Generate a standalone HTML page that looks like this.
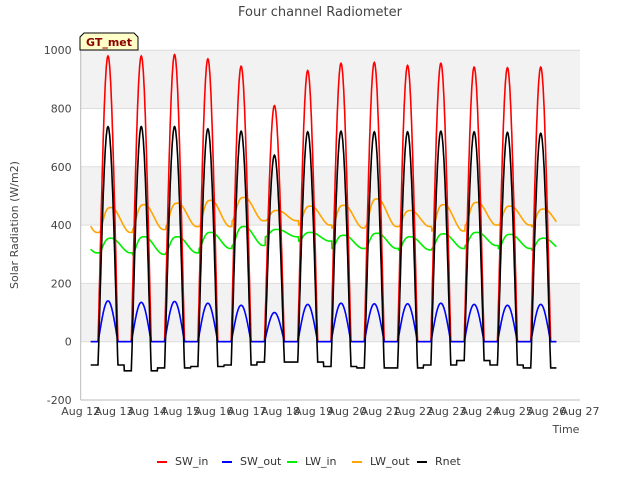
<!DOCTYPE html>
<html><head><meta charset="utf-8"><style>
body{margin:0;background:#fff;font-family:"Liberation Sans","DejaVu Sans",sans-serif}
</style></head><body>
<svg id="chart" width="640" height="480" xmlns="http://www.w3.org/2000/svg" font-family="DejaVu Sans, Liberation Sans, sans-serif">
<text x="320" y="16" text-anchor="middle" font-size="13" fill="#444">Four channel Radiometer</text>
<g id="bands"></g><g id="axes"></g><g id="series"></g>
<text transform="translate(18,225) rotate(-90)" text-anchor="middle" font-size="11" fill="#444">Solar Radiation (W/m2)</text>
<text x="566" y="433" text-anchor="middle" font-size="11" fill="#444">Time</text>
<g>
<path d="M80,50 L80,37 L84,33 L134,33 L138,37 L138,50 Z" fill="#ffffc8" stroke="#000" stroke-width="1"/>
<text x="109" y="46" text-anchor="middle" font-size="11" font-weight="bold" fill="#8b0000">GT_met</text></g>
<g id="legend"></g>
</svg>
<script>
const dayLabels=["Aug 12","Aug 13","Aug 14","Aug 15","Aug 16","Aug 17","Aug 18","Aug 19","Aug 20","Aug 21","Aug 22","Aug 23","Aug 24","Aug 25","Aug 26","Aug 27"];
const yTicks=[-200,0,200,400,600,800,1000];
const swInPeak=[980,980,985,970,945,810,930,955,958,948,955,942,940,942];
const swOutPeak=[140,135,138,132,125,100,128,132,130,130,132,128,125,128];
const rnetPeak=[738,738,738,730,722,640,720,722,720,720,722,720,718,715];
const rnetNight=[-80,-100,-90,-85,-80,-70,-70,-85,-90,-90,-80,-65,-80,-90];
const lwInMin=[305,300,305,320,330,360,345,320,320,315,320,330,320,315];
const lwInPeak=[355,360,360,375,395,385,375,365,372,360,370,375,368,355];
const lwOutMin=[375,385,395,395,415,415,400,390,395,395,380,400,400,395];
const lwOutPeak=[460,470,475,485,495,450,465,468,490,450,470,478,465,455];
const NS="http://www.w3.org/2000/svg";
const X0=80.7,X1=580,Y0=341.7,K=0.2915;
const xs=d=>X0+(d-12)*(X1-X0)/15, ys=v=>Y0-v*K;
function mk(tag,attrs,parent){const e=document.createElementNS(NS,tag);for(const k in attrs)e.setAttribute(k,attrs[k]);parent.appendChild(e);return e;}
const bands=document.getElementById('bands'),axes=document.getElementById('axes');
[[800,1000],[400,600],[0,200]].forEach(b=>{const r=mk('rect',{x:X0,y:ys(b[1]),width:X1-X0,height:ys(b[0])-ys(b[1]),fill:'#f2f2f2'},bands);

});
yTicks.forEach(v=>{const l=mk('line',{x1:X0,x2:X1,y1:ys(v),y2:ys(v),stroke:'#ddd'},axes);


const t=mk('text',{x:X0-9,y:ys(v)+4,'text-anchor':'end','font-size':'11',fill:'#444'},axes);t.textContent=v;

});
mk('line',{x1:X0,x2:X0,y1:ys(1000),y2:ys(-200),stroke:'#bbb'},axes);
mk('line',{x1:X0,x2:X1,y1:ys(-200),y2:ys(-200),stroke:'#bbb'},axes);
dayLabels.forEach((s,i)=>{const t=mk('text',{x:xs(12+i),y:415,'text-anchor':'middle','font-size':'11',fill:'#444'},axes);t.textContent=s;

});
const idx=t=>Math.max(0,Math.min(13,Math.floor(t-12.3)));
function sun(t){const c=Math.round(t-0.82)+0.82;const p=(t-c)/0.3;return Math.abs(p)<1?Math.pow(Math.cos(p*Math.PI/2),1.1):0;}
function lw(t,mn,pk){const d=Math.floor(t-0.55);const i=Math.max(0,Math.min(13,d-12));const f=t-d-0.55;let s;
if(f<0.38)s=Math.sin(f/0.38*Math.PI/2);else s=Math.max(0,1-(f-0.38)/0.55);s=s*s*(3-2*s);return mn[i]+(pk[i]-mn[i])*s;}
const series=[
["SW_in","#ff0000",t=>swInPeak[idx(t)]*sun(t)],
["SW_out","#0000ff",t=>swOutPeak[idx(t)]*sun(t)],
["LW_in","#00ee00",t=>lw(t,lwInMin,lwInPeak)],
["LW_out","#ffa500",t=>lw(t,lwOutMin,lwOutPeak)],
["Rnet","#000000",t=>{const i=idx(t);return rnetNight[i]+(rnetPeak[i]-rnetNight[i])*sun(t);}]];
const sg=document.getElementById('series'),lg=document.getElementById('legend');
const order=["LW_out","LW_in","SW_in","SW_out","Rnet"];
order.forEach(n=>{const s=series.find(q=>q[0]==n);let d="";
for(let t=12.3;t<=26.3;t+=0.01){d+=(d?"L":"M")+xs(t).toFixed(1)+","+ys(s[2](t)).toFixed(1);}
const p=mk('path',{d:d,fill:'none',stroke:s[1],'stroke-width':'1.6'},sg);

});
series.forEach((s,i)=>{const x=157+i*65;const g=mk('g',{},lg);


mk('line',{x1:x,x2:x+10,y1:462,y2:462,stroke:s[1],'stroke-width':2},g);
const t=mk('text',{x:x+18,y:465,'font-size':'11',fill:'#333'},g);t.textContent=s[0];});
</script>
</body></html>
